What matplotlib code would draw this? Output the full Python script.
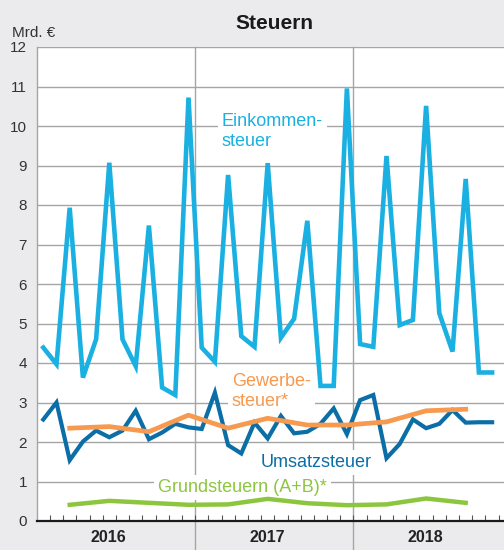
import matplotlib
matplotlib.use("Agg")
import matplotlib.pyplot as plt
import matplotlib.transforms as mtransforms
import numpy as np

plt.rcParams["font.family"] = ["Liberation Sans", "DejaVu Sans"]

# Monthly tax revenue, billion euro (Jan 2016 onwards)
years = ["2016", "2017", "2018"]

einkommensteuer = [4.39, 3.97, 7.93, 3.63, 4.60, 9.07, 4.60, 3.92, 7.48, 3.38, 3.19, 10.72,
                   4.39, 4.03, 8.76, 4.68, 4.41, 9.06, 4.64, 5.12, 7.60, 3.42, 3.42, 10.95,
                   4.48, 4.41, 9.24, 4.96, 5.09, 10.51, 5.26, 4.29, 8.66, 3.76, 3.76]

umsatzsteuer = [2.57, 3.00, 1.54, 2.01, 2.29, 2.12, 2.29, 2.79, 2.07, 2.24, 2.46, 2.37,
                2.33, 3.25, 1.92, 1.71, 2.49, 2.09, 2.66, 2.22, 2.26, 2.46, 2.85, 2.20,
                3.06, 3.19, 1.59, 1.95, 2.57, 2.35, 2.46, 2.81, 2.49, 2.50, 2.50]

# Quarterly series (Mar, Jun, Sep, Dec)
gewerbesteuer = [2.35, 2.39, 2.26, 2.68, 2.35, 2.60, 2.43, 2.43, 2.51, 2.79, 2.83]
grundsteuern = [0.41, 0.51, 0.46, 0.41, 0.42, 0.56, 0.45, 0.40, 0.42, 0.57, 0.46]

c_ek = "#1bb0e2"
c_ust = "#0b6ea6"
c_gew = "#f7994f"
c_grund = "#8cc63f"
bg = "#ebebed"
grid_c = "#a5a5a5"

fig = plt.figure(figsize=(5.04, 5.50), dpi=100, facecolor=bg)
ax = fig.add_axes([36.7 / 504, 29 / 550, 1 - 36.7 / 504, 474 / 550])
ax.set_facecolor("white")

x_month = np.arange(len(einkommensteuer)) + 0.5
x_quarter = np.arange(len(gewerbesteuer)) * 3 + 2.5

ax.set_xlim(0, (504 - 36.7) / 13.2)
ax.set_ylim(0, 12)

# horizontal grid
for v in range(1, 13):
    ax.axhline(v, color=grid_c, lw=1.0, zorder=0.5)

# year separators reaching down into the label band
trans = mtransforms.blended_transform_factory(ax.transData, ax.transAxes)
for b in (12, 24):
    ax.plot([b, b], [-0.065, 1.0], transform=trans, color=grid_c, lw=1.0,
            clip_on=False, zorder=0.5)

ax.plot(x_month, einkommensteuer, color=c_ek, lw=3.3, solid_joinstyle="miter", zorder=3)
ax.plot(x_month, umsatzsteuer, color=c_ust, lw=3.0, solid_joinstyle="miter", zorder=3.2)
ax.plot(x_quarter, gewerbesteuer, color=c_gew, lw=3.4, zorder=3.4)
ax.plot(x_quarter, grundsteuern, color=c_grund, lw=3.2, zorder=3.4)

# spines and ticks
for s in ("top", "right"):
    ax.spines[s].set_visible(False)
ax.spines["left"].set_color(grid_c)
ax.spines["left"].set_linewidth(1.0)
ax.spines["bottom"].set_color("#1a1a1a")
ax.spines["bottom"].set_linewidth(1.6)
ax.spines["bottom"].set_zorder(4)

ax.set_yticks(range(0, 13))
ax.set_yticklabels([str(v) for v in range(0, 13)])
ax.tick_params(axis="y", length=0, pad=7, labelsize=11, labelcolor="#333333")
ax.set_xticks(np.arange(1, 36))
ax.set_xticklabels([])
ax.tick_params(axis="x", direction="in", length=4.5, width=0.8, color="#555555")

for i, yr in enumerate(years):
    ax.text(i * 12 + 5.45, -0.035, yr, transform=trans, ha="center", va="center",
            fontsize=11.5, fontweight="bold", color="#222222")


def px(xp, yp):
    return (xp - 36.7) / 13.2, (521 - yp) / 39.5


box = dict(facecolor="white", edgecolor="none", pad=3)

# two-line labels are anchored at the baseline of their last line
lx, ly = px(221.7, 145.7)
ax.text(lx, ly, "Einkommen-\nsteuer", color=c_ek, fontsize=13, ha="left",
        va="baseline", linespacing=1.17, bbox=box, zorder=1)
lx, ly = px(231.7, 405.7)
ax.text(lx, ly, "Gewerbe-\nsteuer*", color=c_gew, fontsize=13, ha="left",
        va="baseline", linespacing=1.17, bbox=box, zorder=1)
lx, ly = px(261, 466.7)
ax.text(lx, ly, "Umsatzsteuer", color=c_ust, fontsize=13, ha="left",
        va="baseline", bbox=box, zorder=1)
lx, ly = px(158.3, 491.7)
ax.text(lx, ly, "Grundsteuern (A+B)*", color=c_grund, fontsize=13, ha="left",
        va="baseline", bbox=box, zorder=1)

fig.text(11.7 / 504, 1 - 36.7 / 550, "Mrd. €", fontsize=11, color="#333333",
         ha="left", va="baseline")
fig.text(274 / 504, 1 - 29.3 / 550, "Steuern", fontsize=15, fontweight="bold",
         color="#1a1a1a", ha="center", va="baseline")

fig.savefig("out.png", dpi=100, facecolor=bg)
